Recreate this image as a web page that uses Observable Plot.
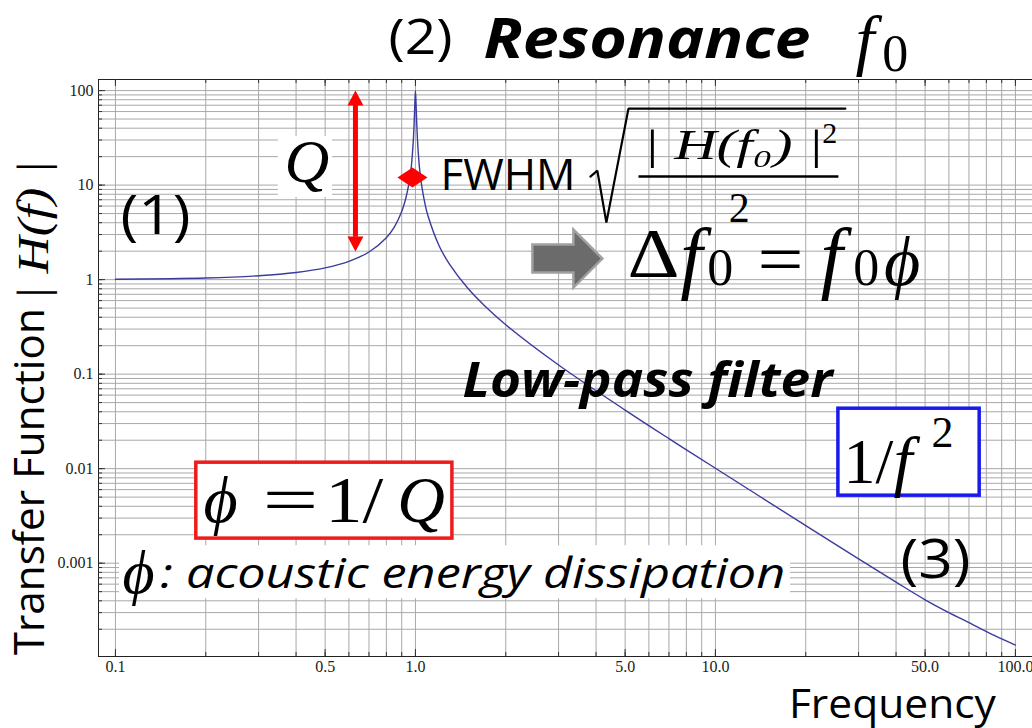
<!DOCTYPE html>
<html><head><meta charset="utf-8">
<script src="https://cdn.jsdelivr.net/npm/d3@7"></script>
<script src="https://cdn.jsdelivr.net/npm/@observablehq/plot@0.6"></script>
<style>html,body{margin:0;padding:0;background:#fff}</style>
</head><body><div id="chart"></div>
<script>
// ---- curve: transfer function |H(f)| ----
const freq = [0.1,0.2,0.3,0.4,0.5,0.6,0.7,0.8,0.85,0.9,0.93,0.95,0.96,0.97,0.975,0.98,0.985,0.99,0.995,1.0,1.005,1.01,1.015,1.02,1.025,1.03,1.04,1.05,1.08,1.1,1.2,1.3,1.5,1.7,2,3,5,7,10,20,30,40,50,60,70,85,100];
const gain = [1.01,1.04,1.10,1.19,1.33,1.56,1.96,2.78,3.6,5.26,7.4,10.2,12.6,16.3,19.8,24.5,31.8,44.8,70.7,100,70.6,44.5,31.4,24.0,19.4,16.0,12.2,9.7,6.0,4.76,2.27,1.45,0.80,0.53,0.333,0.125,0.0417,0.0208,0.0101,0.0025,0.00111,0.00063,0.00041,0.0003,0.000235,0.000172,0.000136];

// ---- axes ----
const xTickLabels = [0.1,0.5,1,5,10,50,100];
const yTickLabels = [100,10,1,0.1,0.01,0.001];
const xDecades = [0.1,1,10,100];
const yDecades = [0.0001,0.001,0.01,0.1,1,10,100];
const multiples = [1,2,3,4,5,6,7,8,9];

// ---- annotations (anchors in data units: frequency, |H|) ----
const annotations = [
  {id:"n2", text:"(2)", f:0.813, H:360},
  {id:"reso", text:"Resonance", f:1.685, H:340},
  {id:"titleF", text:"f", f:29.3, H:330},
  {id:"titleSub", text:"0", f:36.0, H:240},
  {id:"q", text:"Q", f:0.366, H:17.3},
  {id:"fwhm", text:"FWHM", f:1.212, H:12.6},
  {id:"num", text:"| H(f₀) |", f:5.75, H:26.2},
  {id:"numSup", text:"2", f:22.7, H:35},
  {id:"den", text:"2", f:12.0, H:5.64},
  {id:"delta", text:"Δ", f:5.09, H:1.84},
  {id:"df", text:"f", f:7.64, H:1.67},
  {id:"dfSub", text:"0", f:9.4, H:1.31},
  {id:"eq", text:"=", f:13.8, H:1.59},
  {id:"rf", text:"f", f:22.4, H:1.67},
  {id:"rfSub", text:"0", f:28.8, H:1.31},
  {id:"rphi", text:"ϕ", f:36.5, H:1.51},
  {id:"n1", text:"(1)", f:0.104, H:4.64},
  {id:"lowpass", text:"Low-pass filter", f:1.435, H:0.0833},
  {id:"invA", text:"1/", f:26.7, H:0.01157},
  {id:"invF", text:"f", f:39.2, H:0.01157},
  {id:"invSup", text:"2", f:52.5, H:0.0240},
  {id:"bphi", text:"ϕ", f:0.1965, H:0.00458},
  {id:"beq", text:"=", f:0.309, H:0.00458},
  {id:"bone", text:"1/", f:0.5, H:0.00458},
  {id:"bq", text:"Q", f:0.87, H:0.00458},
  {id:"dphi", text:"ϕ", f:0.1055, H:0.000793},
  {id:"diss", text:": acoustic energy dissipation", f:0.141, H:0.000755},
  {id:"n3", text:"(3)", f:41.4, H:0.00106},
  {id:"xtitle", text:"Frequency", f:38.9, H:0.0000318},
  {id:"ytitleA", text:"Transfer Function", f:0.0521, H:0.00728},
  {id:"ytitleB", text:"| H(f) |", f:0.0533, H:3.30}
];
const boxes = [
  {id:"qbg", f1:0.349, f2:0.529, H1:7.38, H2:32.6},
  {id:"red", f1:0.186, f2:1.328, H1:0.00182, H2:0.01157},
  {id:"blue", f1:25.7, f2:76.0, H1:0.00518, H2:0.0431},
  {id:"dissbg", f1:0.1031, f2:17.8, H1:0.000421, H2:0.00153}
];
const qArrow = {f:0.631, shaftTop:72.8, shaftBottom:2.85, tipTop:100, tipBottom:1.98};
const fwhmMark = {f:0.977, H:12.0};
const grayArrow = {f:3.21, H:1.67};
const radical = [{f:3.83,H:12.3},{f:4.04,H:14.2},{f:4.33,H:4.01},{f:5.13,H:64.4},{f:27.1,H:64.4}];
const fractionBar = {f1:5.54, f2:25.7, H:12.3};

// ---- build ----
const curve = freq.map((f,i)=>({f, H:gain[i]}));
const xDomain = [0.0878, 114], yDomain = [1.03e-4, 131];
const inX = v => v >= xDomain[0] && v <= xDomain[1];
const inY = v => v >= yDomain[0] && v <= yDomain[1];
const xGrid = xDecades.flatMap(d => multiples.map(m => +(d*m).toPrecision(6))).filter(inX);
const yGrid = yDecades.flatMap(d => multiples.map(m => +(d*m).toPrecision(6))).filter(inY);
const xMajor = xTickLabels, yMajor = yTickLabels;

const W = 1032, Hh = 728, mL = 98, mR = 0, mT = 79, mB = 72;
const plotW = W - mL - mR, plotH = Hh - mT - mB;

const SERIF = "'Liberation Serif','DejaVu Serif',serif";
const SANS = "'Open Sans','DejaVu Sans',sans-serif";
const B = Object.fromEntries(boxes.map(b => [b.id, b]));

const styles = {
  n2:{fontSize:50, fontFamily:SANS},
  reso:{fontSize:56, fontFamily:SANS, fontWeight:"bold", fontStyle:"italic"},
  titleF:{fontSize:68, fontFamily:SERIF, fontStyle:"italic"},
  titleSub:{fontSize:52, fontFamily:SERIF},
  q:{fontSize:62, fontFamily:SERIF, fontStyle:"italic"},
  fwhm:{fontSize:44, fontFamily:SANS},
  num:{fontSize:42, fontFamily:SERIF, fontStyle:"italic"},
  numSup:{fontSize:30, fontFamily:SERIF},
  den:{fontSize:42, fontFamily:SERIF, textAnchor:"middle"},
  delta:{fontSize:70, fontFamily:SERIF},
  df:{fontSize:80, fontFamily:SERIF, fontStyle:"italic"},
  dfSub:{fontSize:52, fontFamily:SERIF},
  eq:{fontSize:70, fontFamily:SERIF},
  rf:{fontSize:80, fontFamily:SERIF, fontStyle:"italic"},
  rfSub:{fontSize:52, fontFamily:SERIF},
  rphi:{fontSize:70, fontFamily:SERIF, fontStyle:"italic"},
  n1:{fontSize:54, fontFamily:SANS},
  lowpass:{fontSize:48, fontFamily:SANS, fontWeight:"bold", fontStyle:"italic"},
  invA:{fontSize:64, fontFamily:SERIF},
  invF:{fontSize:68, fontFamily:SERIF, fontStyle:"italic"},
  invSup:{fontSize:44, fontFamily:SERIF},
  bphi:{fontSize:66, fontFamily:SERIF, fontStyle:"italic"},
  beq:{fontSize:66, fontFamily:SERIF},
  bone:{fontSize:66, fontFamily:SERIF},
  bq:{fontSize:66, fontFamily:SERIF, fontStyle:"italic"},
  dphi:{fontSize:62, fontFamily:SERIF, fontStyle:"italic"},
  diss:{fontSize:42, fontFamily:SANS, fontStyle:"italic"},
  n3:{fontSize:54, fontFamily:SANS},
  xtitle:{fontSize:41, fontFamily:SANS, textAnchor:"middle"},
  ytitleA:{fontSize:42, fontFamily:SANS, textAnchor:"middle", rotate:-90},
  ytitleB:{fontSize:44, fontFamily:SERIF, fontStyle:"italic", textAnchor:"middle", rotate:-90}
};
// rendered widths (px) of texts whose substitute font differs from the original
const fitWidth = {n2:64, reso:327, fwhm:135, n1:70, n3:70, lowpass:370, diss:625,
  xtitle:207, ytitleA:347, ytitleB:140, num:180, eq:46, beq:56, delta:52, bone:58};

const triUp = {draw(c){ c.moveTo(0,0); c.lineTo(-8,15); c.lineTo(8,15); c.closePath(); }};
const triDown = {draw(c){ c.moveTo(0,0); c.lineTo(-8,-15); c.lineTo(8,-15); c.closePath(); }};
const diamond = {draw(c){ c.moveTo(-15,0); c.lineTo(0,-10); c.lineTo(15,0); c.lineTo(0,10); c.closePath(); }};
const blockArrow = {draw(c){
  c.moveTo(-35,-14); c.lineTo(6,-14); c.lineTo(6,-29); c.lineTo(35,0);
  c.lineTo(6,29); c.lineTo(6,14); c.lineTo(-35,14); c.closePath(); }};

const rect = (b, o) => Plot.rect([b], {x1:"f1", x2:"f2", y1:"H1", y2:"H2", ...o});
const gridStroke = "#a8a8a8";

const marks = [
  Plot.ruleX(xGrid, {stroke:gridStroke, strokeWidth:1}),
  Plot.ruleY(yGrid, {stroke:gridStroke, strokeWidth:1}),
  Plot.frame({anchor:"left", stroke:"#222"}),
  Plot.frame({anchor:"top", stroke:"#222"}),
  Plot.frame({anchor:"bottom", stroke:"#222"}),
  Plot.ruleX(xGrid, {stroke:"#333", insetTop: plotH - 4}),
  Plot.ruleX(xMajor, {stroke:"#333", insetTop: plotH - 7}),
  Plot.ruleX(xGrid, {stroke:"#333", insetBottom: plotH - 4}),
  Plot.ruleX(xMajor, {stroke:"#333", insetBottom: plotH - 7}),
  Plot.ruleY(yGrid, {stroke:"#333", insetRight: plotW - 4}),
  Plot.ruleY(yMajor, {stroke:"#333", insetRight: plotW - 7}),
  Plot.text(xTickLabels, {x:d=>d, frameAnchor:"bottom", lineAnchor:"top", dy:4,
    text:d => d < 1 ? String(d) : d.toFixed(1), fontFamily:SERIF, fontSize:16, fill:"#222"}),
  Plot.text(yTickLabels, {y:d=>d, frameAnchor:"left", textAnchor:"end", dx:-5,
    text:d => String(d), fontFamily:SERIF, fontSize:16, fill:"#222"}),
  rect(B.qbg, {fill:"white"}),
  rect(B.dissbg, {fill:"white"}),
  Plot.line(curve, {x:"f", y:"H", stroke:"#3b3b9e", strokeWidth:1.4, curve:"catmull-rom"}),
  rect(B.red, {fill:"white", stroke:"#ee1c1c", strokeWidth:3.5}),
  rect(B.blue, {fill:"white", stroke:"#1a1aee", strokeWidth:3.5}),
  Plot.link([qArrow], {x1:"f", x2:"f", y1:"shaftTop", y2:"shaftBottom", stroke:"#ff0000", strokeWidth:5}),
  Plot.dot([qArrow], {x:"f", y:"tipTop", symbol:triUp, fill:"#ff0000", stroke:"none"}),
  Plot.dot([qArrow], {x:"f", y:"tipBottom", symbol:triDown, fill:"#ff0000", stroke:"none"}),
  Plot.dot([fwhmMark], {x:"f", y:"H", symbol:diamond, fill:"#ff0000", stroke:"none"}),
  Plot.dot([grayArrow], {x:"f", y:"H", symbol:blockArrow, fill:"#6b6b6b", stroke:"#a0a0a0", strokeWidth:2.5}),
  Plot.line(radical, {x:"f", y:"H", stroke:"#000", strokeWidth:2.2, strokeLinejoin:"miter"}),
  Plot.link([fractionBar], {x1:"f1", x2:"f2", y1:"H", y2:"H", stroke:"#000", strokeWidth:2.5}),
  ...annotations.map(a => Plot.text([a], {x:"f", y:"H", text:"text", textAnchor:"start", fill:"#000",
    ariaLabel: d => "note-" + d.id, ariaDescription: "note-" + a.id, ...styles[a.id]}))
];

const chart = Plot.plot({
  width: W, height: Hh,
  marginLeft: mL, marginRight: mR, marginTop: mT, marginBottom: mB,
  x: {type:"log", domain:xDomain, axis:null},
  y: {type:"log", domain:yDomain, axis:null},
  style: {background:"white", overflow:"visible"},
  marks
});
for (const [id, w] of Object.entries(fitWidth)) {
  const sel = `text[aria-label="note-${id}"], g[aria-description="note-${id}"] text, g[aria-label="note-${id}"] text`;
  chart.querySelectorAll(sel).forEach(t => {
    t.setAttribute("textLength", w); t.setAttribute("lengthAdjust", "spacingAndGlyphs");
  });
}
document.getElementById("chart").appendChild(chart);
</script>
</body></html>
